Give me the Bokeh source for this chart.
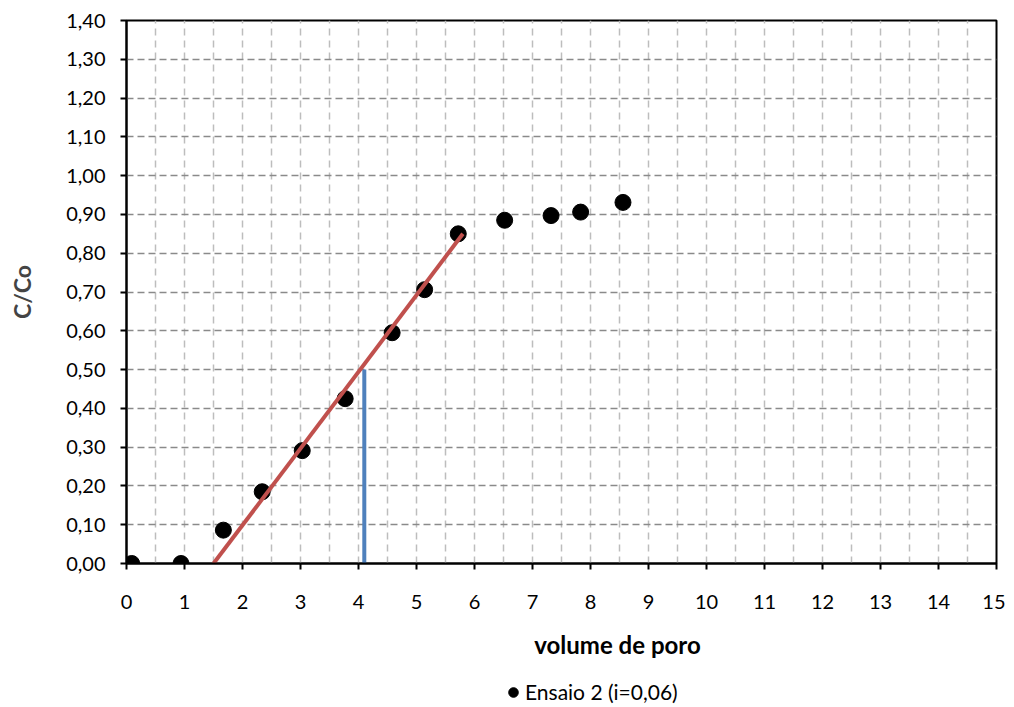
from bokeh.plotting import figure
from bokeh.layouts import column
from bokeh.models import (Range1d, FixedTicker, Legend, LegendItem, Label)
from bokeh.embed import file_html
from bokeh.resources import INLINE

# ---- data ----
volume_poro = [0.09, 0.94, 1.67, 2.34, 3.03, 3.77, 4.58, 5.14, 5.72, 6.52, 7.32, 7.83, 8.56]
c_co = [0.000, 0.000, 0.086, 0.185, 0.291, 0.425, 0.595, 0.706, 0.850, 0.885, 0.897, 0.906, 0.931]

trend_x = [1.50, 5.80]
trend_y = [0.00, 0.85]

half_x = [4.10, 4.10]
half_y = [0.00, 0.50]

x_ticks = list(range(0, 16))
y_ticks = [0.0, 0.1, 0.2, 0.3, 0.4, 0.5, 0.6, 0.7, 0.8, 0.9, 1.0, 1.1, 1.2, 1.3, 1.4]
y_tick_labels = ["0,00", "0,10", "0,20", "0,30", "0,40", "0,50", "0,60", "0,70",
                 "0,80", "0,90", "1,00", "1,10", "1,20", "1,30", "1,40"]
x_grid = [i * 0.5 for i in range(0, 31)]

series_label = "Ensaio 2 (i=0,06)"
x_title = "volume de poro"
y_title = "C/Co"

FONT = "Lato"

# ---------------- main chart ----------------
p = figure(frame_width=870, frame_height=543, output_backend="svg", toolbar_location=None,
           x_range=Range1d(0, 15), y_range=Range1d(0, 1.4),
           min_border_left=126, min_border_right=9, min_border_top=20,
           min_border_bottom=58)
p.background_fill_color = "white"
p.border_fill_color = "white"
p.outline_line_color = "black"
p.outline_line_width = 2

# grids
p.xgrid.ticker = FixedTicker(ticks=x_grid)
p.xgrid.grid_line_color = "#bdbdbd"
p.xgrid.grid_line_dash = "7 5"
p.xgrid.grid_line_width = 1.5
p.ygrid.ticker = FixedTicker(ticks=y_ticks)
p.ygrid.grid_line_color = "#8a8a8a"
p.ygrid.grid_line_dash = "7 4"
p.ygrid.grid_line_width = 1.5

# axes
for ax in (p.xaxis[0], p.yaxis[0]):
    ax.axis_line_color = "black"
    ax.axis_line_width = 2
    ax.major_tick_line_color = "black"
    ax.major_tick_line_width = 2
    ax.major_tick_out = 6
    ax.major_tick_in = 0
    ax.minor_tick_line_color = None
    ax.major_label_text_font = FONT
    ax.major_label_text_font_size = "20px"
    ax.major_label_text_color = "black"

p.xaxis.ticker = FixedTicker(ticks=x_ticks)
p.xaxis.major_label_standoff = 25
p.yaxis.ticker = FixedTicker(ticks=y_ticks)
p.yaxis.major_label_overrides = {t: s for t, s in zip(y_ticks, y_tick_labels)}
p.yaxis.major_label_standoff = 15
p.yaxis.axis_label = y_title
p.yaxis.axis_label_text_font = FONT
p.yaxis.axis_label_text_font_style = "bold"
p.yaxis.axis_label_text_font_size = "23px"
p.yaxis.axis_label_standoff = 27

# marks
r = p.scatter(volume_poro, c_co, size=16, color="black")
p.line(half_x, half_y, line_color="#4F81BD", line_width=4)
p.line(trend_x, trend_y, line_color="#C0504D", line_width=4)

# ---------------- strip below: x title + legend ----------------
# the column aligns this strip's frame with the chart frame (870 px wide)
STRIP_W, STRIP_H = 1005, 85
s = figure(width=STRIP_W, height=STRIP_H, output_backend="svg", toolbar_location=None,
           x_range=Range1d(0, 870), y_range=Range1d(0, STRIP_H),
           x_axis_type=None, y_axis_type=None, min_border=0)
s.outline_line_color = None
s.background_fill_color = "white"
s.border_fill_color = "white"

s.add_layout(Label(x=491, y=62, text=x_title, text_font=FONT,
                   text_font_style="bold", text_font_size="24px", text_color="black",
                   text_align="center", text_baseline="middle"))

# legend proxy renderer (same series, not drawn in the strip)
rs = s.scatter(volume_poro, c_co, size=16, color="black", visible=False)
legend = Legend(items=[LegendItem(label=series_label, renderers=[rs])],
                location=(375, 2), padding=0, margin=0, spacing=0,
                glyph_width=24, glyph_height=24, label_standoff=0,
                border_line_color=None, background_fill_alpha=0,
                label_text_font=FONT, label_text_font_size="21px",
                label_text_color="black")
s.add_layout(legend, "center")

layout = column(p, s, spacing=0)
open("out.html", "w").write(file_html(layout, INLINE))
